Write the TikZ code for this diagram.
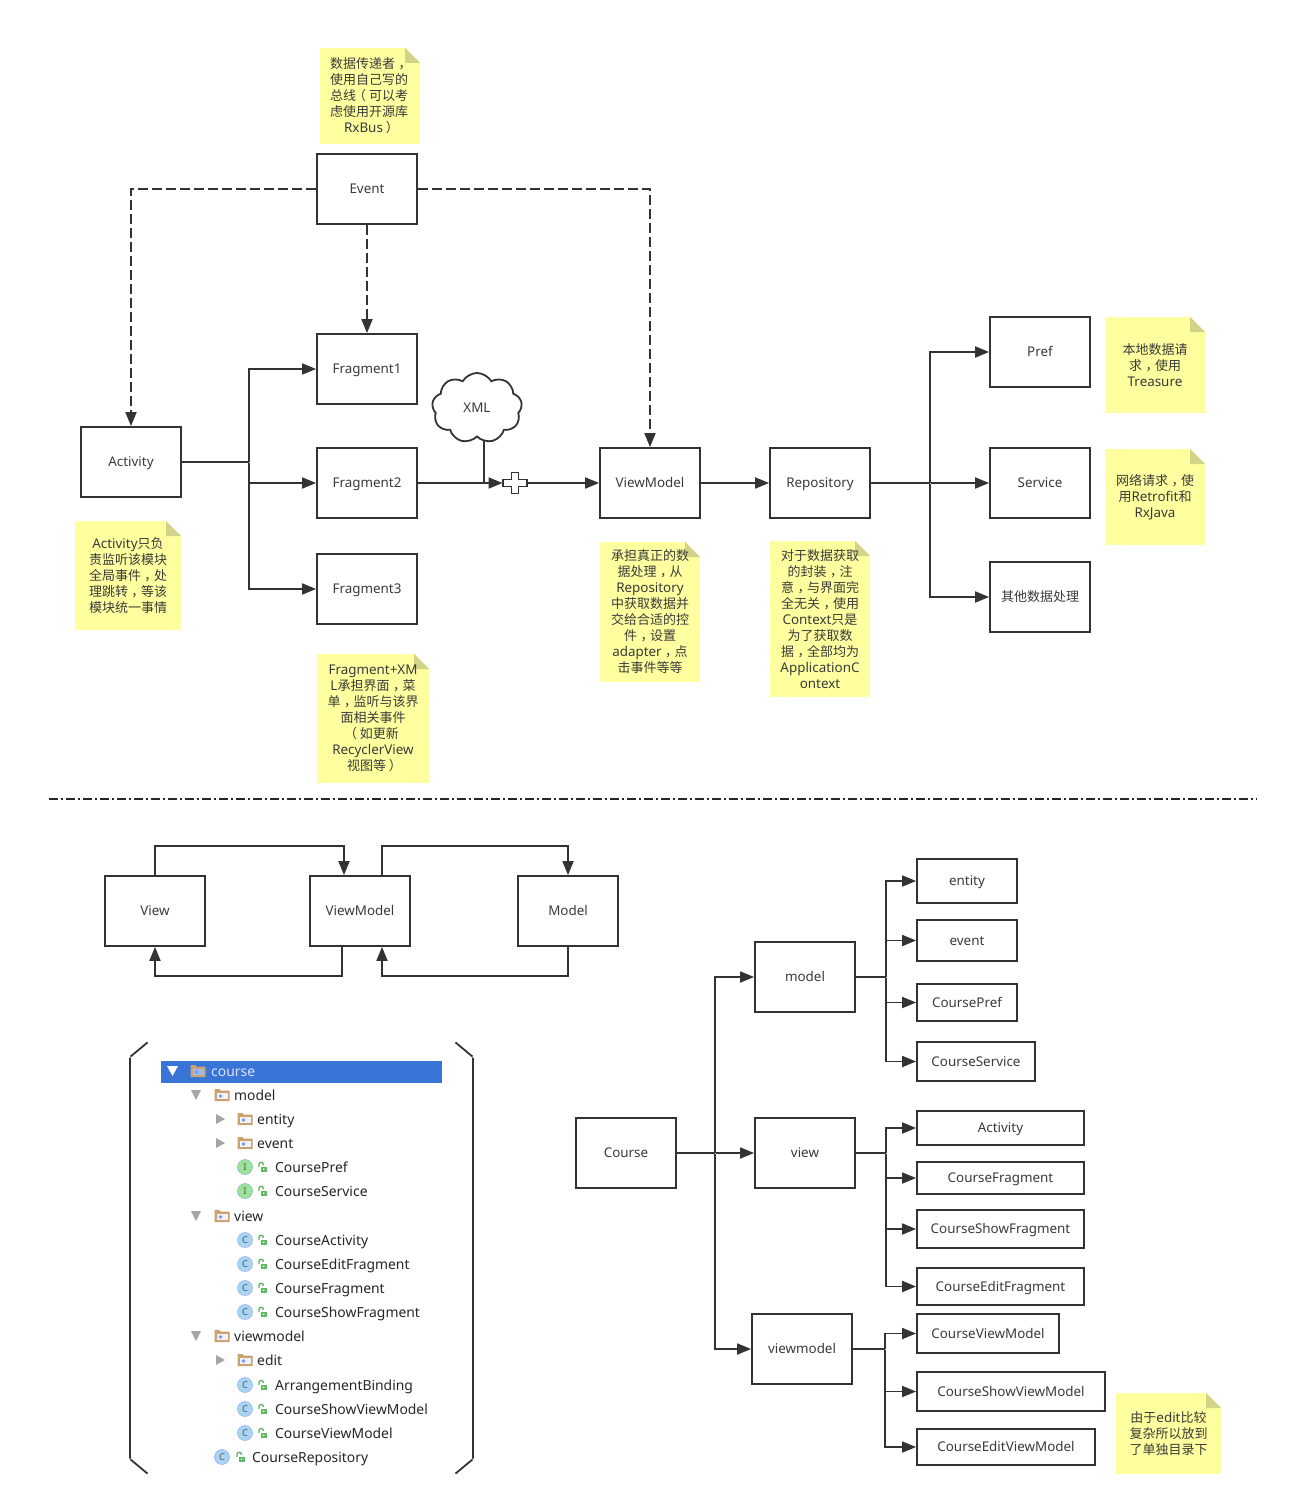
\documentclass[tikz,border=0pt]{standalone}
\usepackage{fontspec}
\setmainfont{Noto Sans}
\newfontfamily\cjkfont{Noto Sans CJK SC}
\usepackage{tikz}
\usetikzlibrary{arrows.meta,shapes.symbols}
\definecolor{linegray}{HTML}{333333}
\definecolor{textgray}{HTML}{3A3A3A}
\definecolor{notey}{HTML}{FFFF9F}
\definecolor{notefold}{HTML}{D2D288}
\definecolor{selblue}{HTML}{3875D7}
\definecolor{foldertan}{HTML}{C9A26D}
\definecolor{classblue}{HTML}{A9D5F5}
\definecolor{ifacegreen}{HTML}{9BE29B}
\definecolor{lockgreen}{HTML}{62B862}
\newcommand{\zhlat}[1]{{\fontspec{Noto Sans}\fontsize{13.4}{16}\selectfont #1}}
\newcommand{\zc}{\kern3.5pt，\kern-3.5pt}
\newcommand{\zl}{\kern-3pt（\kern3pt}
\newcommand{\zr}{\kern3pt）\kern-3pt}
\tikzstyle{none}=[inner sep=0pt,outer sep=0pt]
\tikzstyle{box}=[rectangle,draw=linegray,line width=1.8,minimum width=100,minimum height=70,inner sep=0pt,text height=11.5,text depth=2,text=textgray,font=\fontsize{13.4}{16}\selectfont]
\tikzstyle{note}=[rectangle,fill=notey,inner sep=0pt,align=center,text=textgray,font=\cjkfont\fontsize{13}{16}\selectfont,path picture={
	\fill [white] (path picture bounding box.north east) -- ++(-15,0) -- ++(15,15) -- cycle;
	\fill [notefold] (path picture bounding box.north east) ++(-15,0) -- ++(15,15) -- ++(-15,0) -- cycle;
}]
\tikzstyle{xmlcloud}=[cloud,cloud puffs=9,cloud puff arc=120,aspect=1.3,draw=linegray,line width=1.8,fill=white,minimum width=90,minimum height=70,inner sep=0pt,text=textgray,font=\fontsize{13.4}{16}\selectfont]
\tikzstyle{plainline}=[-,draw=linegray,line width=1.8]
\tikzstyle{inarrow}=[->,>={Triangle[length=14pt,width=11pt]},draw=linegray,line width=1.8]
\tikzstyle{dasharrow}=[style=inarrow,dash pattern=on 10pt off 4pt]
\tikzstyle{divider}=[-,draw=black!85,line width=1.4,dash pattern=on 9pt off 3pt on 2pt off 3pt]
\tikzstyle{treetext}=[anchor=base west,inner sep=0pt,text=black!85,font=\fontsize{13.9}{16}\selectfont]
\tikzstyle{plusmark}=[draw=linegray,fill=white,line width=1.8]
\tikzset{
  pics/foldericon/.style={code={
    \fill [foldertan] (-7.5,-6) -- (-2.5,-6) -- (-1.5,-4.5) -- (7.5,-4.5) -- (7.5,6) -- (-7.5,6) -- cycle;
    \fill [#1] (-5.5,-2.5) rectangle (5.5,4);
    \fill [classblue!70!blue] (-1.5,1) circle (1.8);
  }},
  pics/typeicon/.style 2 args={code={
    \draw [fill=#1,draw=#1!75!blue] (0,0) circle (7.5);
    \node [none,text=black!65,font=\fontsize{9.5}{9}\selectfont] (letter) at (0,0) {#2};
  }},
  pics/lockicon/.style={code={
    \fill [lockgreen] (-1.5,-0.5) rectangle (5,5);
    \draw [lockgreen,line width=1.4] (-3,0) -- (-3,-2.5) .. controls (-3,-5.5) and (1.5,-5.5) .. (1.5,-2);
    \fill [white] (1.7,2.2) circle (0.9);
  }}
}
\pgfdeclarelayer{edgelayer}
\pgfdeclarelayer{nodelayer}
\pgfsetlayers{edgelayer,nodelayer,main}
\begin{document}
\begin{tikzpicture}[x=1pt,y=-1pt]
	\useasboundingbox (0,0) rectangle (1288,1506);
	\begin{pgfonlayer}{nodelayer}
		% upper flow
		\node [style=box] (event) at (367,189) {Event};
		\node [style=box] (activity) at (131,462) {Activity};
		\node [style=box] (frag1) at (367,369) {Fragment1};
		\node [style=box] (frag2) at (367,483) {Fragment2};
		\node [style=box] (frag3) at (367,589) {Fragment3};
		\node [style=box] (flowvm) at (650,483) {ViewModel};
		\node [style=box] (repo) at (820,483) {Repository};
		\node [style=box] (pref) at (1040,352) {Pref};
		\node [style=box] (service) at (1040,483) {Service};
		\node [style=box] (other) at (1040,597) {\cjkfont\fontsize{13}{16}\selectfont 其他数据处理};
		\node [style=xmlcloud] (xml) at (477,408) {XML};
		\node [style=none] (plus) at (515,483) {};
		\node [style=none] (j1) at (249,462) {};
		\node [style=none] (j2) at (930,483) {};
		\node [style=none] (j3) at (484,483) {};
		\node [style=none] (j4) at (503,483) {};
		% notes
		\node [style=note,minimum width=100,minimum height=96] (n1) at (370,96) {\kern-2pt 数据传递者\zc\\\kern-2pt 使用自己写的\\\kern-2pt 总线\zl 可以考\\\kern-2pt 虑使用开源库\\\zhlat{RxBus}\zr};
		\node [style=note,minimum width=100,minimum height=96] (n2) at (1155,365) {本地数据请\\求\zc 使用\\\zhlat{Treasure}};
		\node [style=note,minimum width=100,minimum height=96] (n3) at (1155,497) {网络请求\zc 使\\用\zhlat{Retrofit}和\\\zhlat{RxJava}};
		\node [style=note,minimum width=106,minimum height=109] (n4) at (128,575.5) {\zhlat{Activity}只负\\责监听该模块\\全局事件\zc 处\\理跳转\zc 等该\\模块统一事情};
		\node [style=note,minimum width=112,minimum height=129] (n5) at (373,718.5) {\zhlat{Fragment+XM}\\\zhlat{L}承担界面\zc 菜\\单\zc 监听与该界\\面相关事件\\\zl 如更新\\\zhlat{RecyclerView}\\视图等\zr};
		\node [style=note,minimum width=100,minimum height=140] (n6) at (650,612) {承担真正的数\\据处理\zc 从\\\zhlat{Repository}\\中获取数据并\\交给合适的控\\件\zc 设置\\\zhlat{adapter}\zc 点\\击事件等等};
		\node [style=note,minimum width=100,minimum height=156] (n7) at (820,619) {对于数据获取\\的封装\zc 注\\意\zc 与界面完\\全无关\zc 使用\\\zhlat{Context}只是\\为了获取数\\据\zc 全部均为\\\zhlat{ApplicationC}\\\zhlat{ontext}};
		\node [style=note,minimum width=105,minimum height=81] (n8) at (1168.5,1433.5) {由于\zhlat{edit}比较\\复杂所以放到\\了单独目录下};
		% divider ends
		\node [style=none] (d1) at (48,799) {};
		\node [style=none] (d2) at (1257,799) {};
		% mvvm
		\node [style=box] (view) at (155,911) {View};
		\node [style=box] (mvvm) at (360,911) {ViewModel};
		\node [style=box] (model) at (568,911) {Model};
		% package tree
		\node [style=box] (course) at (626,1153) {Course};
		\node [style=box] (pmodel) at (805,977) {model};
		\node [style=box] (pview) at (805,1153) {view};
		\node [style=box] (pvm) at (802,1349) {viewmodel};
		\node [style=box,minimum width=100,minimum height=44] (entity) at (967,881) {entity};
		\node [style=box,minimum width=100,minimum height=41] (evt) at (967,940.5) {event};
		\node [style=box,minimum width=100,minimum height=37] (cpref) at (967,1002.5) {CoursePref};
		\node [style=box,minimum width=118,minimum height=39] (cservice) at (976,1061.5) {CourseService};
		\node [style=box,minimum width=167,minimum height=34] (cact) at (1000.5,1128) {Activity};
		\node [style=box,minimum width=167,minimum height=32] (cfrag) at (1000.5,1178) {CourseFragment};
		\node [style=box,minimum width=167,minimum height=38] (cshow) at (1000.5,1229) {CourseShowFragment};
		\node [style=box,minimum width=167,minimum height=37] (cedit) at (1000.5,1286.5) {CourseEditFragment};
		\node [style=box,minimum width=142,minimum height=39] (cvm) at (988,1333.5) {CourseViewModel};
		\node [style=box,minimum width=188,minimum height=39] (csvm) at (1011,1391.5) {CourseShowViewModel};
		\node [style=box,minimum width=178,minimum height=36] (cevm) at (1006,1447) {CourseEditViewModel};
		\node [style=none] (j5) at (715,1153) {};
		\node [style=none] (j6) at (886,977) {};
		\node [style=none] (j7) at (886,1153) {};
		\node [style=none] (j8) at (885,1349) {};
		% brackets
		\node [style=none] (bl1) at (148,1042) {};
		\node [style=none] (bl2) at (130,1057) {};
		\node [style=none] (bl3) at (130,1459) {};
		\node [style=none] (bl4) at (148,1474) {};
		\node [style=none] (br1) at (455,1042) {};
		\node [style=none] (br2) at (473,1057) {};
		\node [style=none] (br3) at (473,1459) {};
		\node [style=none] (br4) at (455,1474) {};
		% file tree
		\fill [selblue] (161,1061) rectangle (442,1083);
		\node [style=treetext,text=blue!12!white] (rowcourse) at (211,1076) {course};
		\foreach \rowy/\rowx/\rowname in {1095/234/model,1119/257/entity,1143/257/event,1167/275/CoursePref,1191/275/CourseService,1216/234/view,1240/275/CourseActivity,1264/275/CourseEditFragment,1288/275/CourseFragment,1312/275/CourseShowFragment,1336/234/viewmodel,1360/257/edit,1385/275/ArrangementBinding,1409/275/CourseShowViewModel,1433/275/CourseViewModel,1457/252/CourseRepository}
			\node [style=treetext] (row\rowy) at (\rowx,\rowy+5) {\rowname};
		\pic at (198,1071) {foldericon=selblue!50!white};
		\foreach \iconx/\rowy in {222/1095,245/1119,245/1143,222/1216,222/1336,245/1360}
			\pic at (\iconx,\rowy) {foldericon=blue!5!white};
		\foreach \rowy in {1167,1191} {
			\pic at (245,\rowy) {typeicon={ifacegreen}{I}};
			\pic at (262,\rowy) {lockicon};
		}
		\foreach \rowy in {1240,1264,1288,1312,1385,1409,1433} {
			\pic at (245,\rowy) {typeicon={classblue}{C}};
			\pic at (262,\rowy) {lockicon};
		}
		\pic at (222,1457) {typeicon={classblue}{C}};
		\pic at (240,1457) {lockicon};
		\fill [white] (167,1066) -- (178,1066) -- (172.5,1076) -- cycle;
		\foreach \rowy in {1095,1216,1336}
			\fill [black!35] (191,\rowy-5) -- (201,\rowy-5) -- (196,\rowy+5) -- cycle;
		\foreach \rowy in {1119,1143,1360}
			\fill [black!35] (216,\rowy-5) -- (225,\rowy) -- (216,\rowy+5) -- cycle;
	\end{pgfonlayer}
	\begin{pgfonlayer}{edgelayer}
		\draw [style=dasharrow] (event) -| (activity);
		\draw [style=dasharrow] (event) -| (flowvm);
		\draw [style=dasharrow] (event) to (frag1);
		\draw [style=plainline] (activity.east) to (j1);
		\draw [style=inarrow] (j1) |- (frag1);
		\draw [style=inarrow] (j1) |- (frag2);
		\draw [style=inarrow] (j1) |- (frag3);
		\draw [style=plainline] (xml.south -| j3) to (j3);
		\draw [style=inarrow] (frag2) to (j4);
		\draw [style=inarrow] (plus) to (flowvm);
		\draw [style=inarrow] (flowvm) to (repo);
		\draw [style=plainline] (repo) to (j2);
		\draw [style=inarrow] (j2) |- (pref);
		\draw [style=inarrow] (j2) to (service);
		\draw [style=inarrow] (j2) |- (other);
		\draw [style=divider] (d1) to (d2);
		\draw [style=inarrow] (view.north) -- ++(0,-29) -| ([xshift=-16]mvvm.north);
		\draw [style=inarrow] ([xshift=22]mvvm.north) -- ++(0,-29) -| (model.north);
		\draw [style=inarrow] ([xshift=-18]mvvm.south) -- ++(0,29) -| (view.south);
		\draw [style=inarrow] (model.south) -- ++(0,29) -| ([xshift=22]mvvm.south);
		\draw [style=plainline] (course) to (j5);
		\draw [style=inarrow] (j5) |- (pmodel);
		\draw [style=inarrow] (j5) to (pview);
		\draw [style=inarrow] (j5) |- (pvm);
		\draw [style=plainline] (pmodel) to (j6);
		\draw [style=inarrow] (j6) |- (entity);
		\draw [style=inarrow] (j6) |- (evt);
		\draw [style=inarrow] (j6) |- (cpref);
		\draw [style=inarrow] (j6) |- (cservice);
		\draw [style=plainline] (pview) to (j7);
		\draw [style=inarrow] (j7) |- (cact);
		\draw [style=inarrow] (j7) |- (cfrag);
		\draw [style=inarrow] (j7) |- (cshow);
		\draw [style=inarrow] (j7) |- (cedit);
		\draw [style=plainline] (pvm) to (j8);
		\draw [style=inarrow] (j8) |- (cvm);
		\draw [style=inarrow] (j8) |- (csvm);
		\draw [style=inarrow] (j8) |- (cevm);
		\draw [style=plainline] (bl1) -- (bl2) -- (bl3) -- (bl4);
		\draw [style=plainline] (br1) -- (br2) -- (br3) -- (br4);
	\end{pgfonlayer}
	% the plus mark
	\draw [style=plusmark,shift={(plus)}] (-3.5,-10.5) -- (3.5,-10.5) -- (3.5,-3.5) -- (12,-3.5) -- (12,3.5) -- (3.5,3.5) -- (3.5,10.5) -- (-3.5,10.5) -- (-3.5,3.5) -- (-12,3.5) -- (-12,-3.5) -- (-3.5,-3.5) -- cycle;
\end{tikzpicture}
\end{document}
